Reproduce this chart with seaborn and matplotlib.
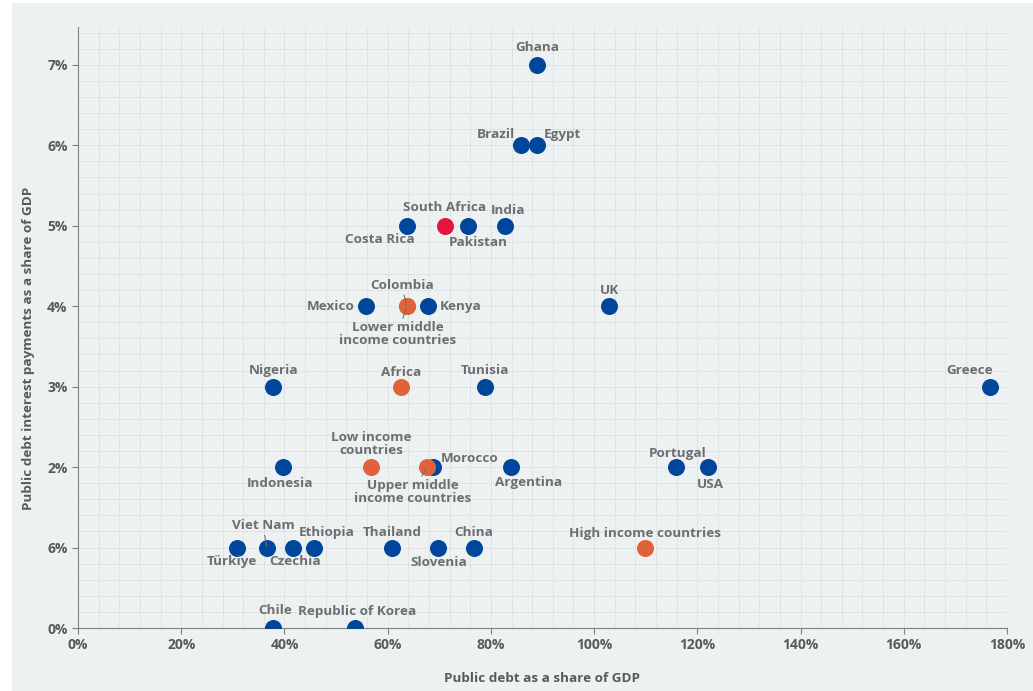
import matplotlib
matplotlib.use("Agg")
import matplotlib.pyplot as plt
import seaborn as sns
import pandas as pd
from matplotlib.ticker import MultipleLocator, FixedLocator, FixedFormatter
from matplotlib.patches import Rectangle

# ---------------- data ----------------
names = ["Ghana", "Brazil", "Egypt", "Costa Rica", "Pakistan", "India",
         "Mexico", "Kenya", "UK", "Nigeria", "Tunisia", "Greece",
         "Indonesia", "Morocco", "Argentina", "Portugal", "USA",
         "Türkiye", "Viet Nam", "Czechia", "Ethiopia", "Thailand", "Slovenia",
         "China", "Chile", "Republic of Korea",
         "South Africa",
         "Colombia",
         "Lower middle\nincome countries", "Africa", "Low income\ncountries",
         "Upper middle\nincome countries", "High income countries"]
debt = [88.9, 85.8, 88.9, 63.7, 75.6, 82.7,
        55.8, 67.8, 102.9, 37.8, 78.9, 176.7,
        39.7, 68.8, 83.9, 115.9, 122.1,
        30.8, 36.6, 41.7, 45.7, 60.8, 69.8,
        76.7, 37.8, 53.7,
        71.1,
        63.7,
        63.7, 62.6, 56.8,
        67.6, 109.9]
interest = [7, 6, 6, 5, 5, 5,
            4, 4, 4, 3, 3, 3,
            2, 2, 2, 2, 2,
            1, 1, 1, 1, 1, 1,
            1, 0, 0,
            5,
            4,
            4, 3, 2,
            2, 1]
group = (["Country"] * 26 + ["South Africa"] +
         ["Income group / region"] * 6)

x_ticks = [0, 20, 40, 60, 80, 100, 120, 140, 160, 180]
x_tick_labels = ["0%", "20%", "40%", "60%", "80%", "100%", "120%", "140%", "160%", "180%"]
y_ticks = [0, 1, 2, 3, 4, 5, 6, 7]
y_tick_labels = ["0%", "6%", "2%", "3%", "4%", "5%", "6%", "7%"]

x_label = "Public debt as a share of GDP"
y_label = "Public debt interest payments as a share of GDP"

df = pd.DataFrame({"name": names, "debt": debt, "interest": interest, "group": group})

# ---------------- layout / style ----------------
label_offsets = {  # pixel offsets of label centre from its point
    "Ghana": (0, 17), "Brazil": (-25, 11), "Egypt": (26, 11),
    "Costa Rica": (-27, -14), "Pakistan": (10, -17), "India": (3, 15),
    "Mexico": (-35, 0), "Colombia": (-5, 21), "Kenya": (33, 0), "UK": (0, 16),
    "Nigeria": (0, 16), "Tunisia": (0, 16), "Greece": (-20, 16),
    "Indonesia": (-3, -16), "Morocco": (37, 9), "Argentina": (18, -15),
    "Portugal": (1, 14), "USA": (2, -17),
    "Türkiye": (-5, -14), "Viet Nam": (-4, 22), "Czechia": (2, -14),
    "Ethiopia": (13, 15), "Thailand": (0, 15), "Slovenia": (1, -15),
    "China": (0, 15), "Chile": (2, 17), "Republic of Korea": (2, 17),
    "South Africa": (0, 18),
    "Lower middle\nincome countries": (-9, -28), "Africa": (0, 14),
    "Low income\ncountries": (0, 23),
    "Upper middle\nincome countries": (-14, -25),
    "High income countries": (0, 14),
}
leader = {"Colombia", "Lower middle\nincome countries",
          "Upper middle\nincome countries", "Viet Nam"}

palette = {"Country": "#00469b", "Income group / region": "#e0623a",
           "South Africa": "#e3153f"}
bg = "#eef1f1"
text_grey = "#6d6e71"

sns.set_style("ticks")
plt.rcParams["font.family"] = ["Open Sans", "DejaVu Sans"]
plt.rcParams["font.weight"] = "bold"

fig = plt.figure(figsize=(10.33, 6.91), dpi=100, facecolor="white")
fig.patches.append(Rectangle((12 / 1033, 0), 1, 1 - 3 / 691, transform=fig.transFigure,
                             facecolor=bg, edgecolor="none", zorder=-10))
ax = fig.add_axes([78 / 1033, 1 - 628 / 691, (1007 - 78) / 1033, (628 - 27) / 691])
ax.set_facecolor(bg)

order = ["Country", "Income group / region", "South Africa"]
for g in order:
    sub = df[df["group"] == g]
    sns.scatterplot(data=sub, x="debt", y="interest", color=palette[g], s=150,
                    linewidth=0, ax=ax, zorder=3, legend=False)

for n, xv, yv in zip(names, debt, interest):
    dx, dy = label_offsets[n]
    kw = {}
    if n in leader:
        kw["arrowprops"] = dict(arrowstyle="-", color=text_grey, lw=0.8,
                                shrinkA=0, shrinkB=1)
    ax.annotate(n, xy=(xv, yv), xytext=(dx, dy), textcoords="offset pixels",
                ha="center", va="center", fontsize=9.7, fontweight="bold",
                color=text_grey, linespacing=0.95, zorder=4, **kw)

ax.set_xlim(0, 180)
ax.set_ylim(0, 7.47)
ax.xaxis.set_major_locator(FixedLocator(x_ticks))
ax.xaxis.set_major_formatter(FixedFormatter(x_tick_labels))
ax.yaxis.set_major_locator(FixedLocator(y_ticks))
ax.yaxis.set_major_formatter(FixedFormatter(y_tick_labels))
ax.xaxis.set_minor_locator(MultipleLocator(4))
ax.yaxis.set_minor_locator(MultipleLocator(0.2))

ax.grid(which="both", color="#c6caca", linestyle=(0, (1, 1.5)), linewidth=0.6, zorder=0)
ax.set_axisbelow(True)
ax.tick_params(which="minor", length=0)
ax.tick_params(which="major", length=4, width=0.8, color="#808285",
               labelsize=10, labelcolor="#58595b")
for lab in ax.get_xticklabels() + ax.get_yticklabels():
    lab.set_fontweight("bold")

for s in ["top", "right"]:
    ax.spines[s].set_visible(False)
for s in ["left", "bottom"]:
    ax.spines[s].set_color("#808285")
    ax.spines[s].set_linewidth(0.8)

ax.set_xlabel(x_label, fontsize=9.7, fontweight="bold", color="#58595b", labelpad=14)
ax.set_ylabel(y_label, fontsize=9.7, fontweight="bold", color="#58595b", labelpad=8)
ax.yaxis.set_label_coords(-0.0463, 0.466)

fig.savefig("out.png", dpi=100, facecolor="white")
